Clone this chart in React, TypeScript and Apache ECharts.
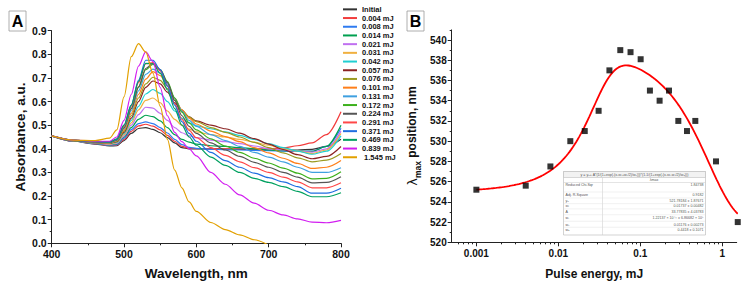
import React, { useEffect, useRef } from "react";
import * as echarts from "echarts";

const FONT = "'Liberation Sans', Arial, Helvetica, sans-serif";

// ---------- Panel A: absorption spectra after successive laser pulses ----------
const wavelengths = [400, 430, 460, 480, 490, 500, 510, 520, 530, 540, 550, 560, 570, 580, 590, 600, 620, 640, 660, 680, 700, 720, 740, 760, 780, 800];

const absInitial = [0.455, 0.432, 0.420, 0.412, 0.413, 0.435, 0.465, 0.486, 0.490, 0.482, 0.468, 0.447, 0.425, 0.405, 0.400, 0.400, 0.400, 0.399, 0.398, 0.396, 0.395, 0.394, 0.395, 0.398, 0.410, 0.440];
const abs0004 = [0.455, 0.433, 0.421, 0.414, 0.416, 0.440, 0.474, 0.497, 0.504, 0.496, 0.480, 0.457, 0.432, 0.410, 0.402, 0.401, 0.400, 0.400, 0.400, 0.400, 0.400, 0.404, 0.413, 0.425, 0.460, 0.557];
const abs0008 = [0.455, 0.433, 0.422, 0.415, 0.418, 0.445, 0.481, 0.507, 0.514, 0.507, 0.490, 0.467, 0.440, 0.418, 0.406, 0.402, 0.398, 0.396, 0.395, 0.393, 0.392, 0.390, 0.389, 0.390, 0.410, 0.487];
const abs0014 = [0.455, 0.434, 0.423, 0.417, 0.421, 0.450, 0.490, 0.525, 0.542, 0.536, 0.518, 0.490, 0.460, 0.440, 0.428, 0.420, 0.413, 0.410, 0.405, 0.400, 0.395, 0.392, 0.390, 0.389, 0.410, 0.500];
const abs0021 = [0.455, 0.434, 0.424, 0.418, 0.423, 0.455, 0.500, 0.545, 0.576, 0.572, 0.550, 0.520, 0.490, 0.468, 0.455, 0.447, 0.437, 0.430, 0.422, 0.412, 0.400, 0.395, 0.390, 0.386, 0.400, 0.475];
const abs0031 = [0.455, 0.435, 0.425, 0.420, 0.426, 0.460, 0.510, 0.565, 0.605, 0.615, 0.595, 0.560, 0.525, 0.500, 0.483, 0.472, 0.460, 0.450, 0.440, 0.428, 0.415, 0.400, 0.390, 0.380, 0.395, 0.465];
const abs0042 = [0.455, 0.435, 0.426, 0.422, 0.428, 0.465, 0.520, 0.580, 0.632, 0.651, 0.635, 0.600, 0.560, 0.530, 0.510, 0.497, 0.485, 0.472, 0.457, 0.440, 0.422, 0.405, 0.390, 0.377, 0.390, 0.455];
const abs0057 = [0.455, 0.435, 0.426, 0.423, 0.430, 0.470, 0.530, 0.600, 0.660, 0.687, 0.675, 0.640, 0.595, 0.560, 0.535, 0.518, 0.500, 0.485, 0.466, 0.443, 0.420, 0.397, 0.375, 0.358, 0.368, 0.410];
const abs0076 = [0.455, 0.435, 0.427, 0.424, 0.432, 0.475, 0.540, 0.615, 0.675, 0.703, 0.690, 0.655, 0.605, 0.565, 0.535, 0.515, 0.490, 0.470, 0.450, 0.427, 0.405, 0.383, 0.362, 0.345, 0.352, 0.380];
const abs0101 = [0.455, 0.436, 0.428, 0.425, 0.434, 0.480, 0.550, 0.630, 0.695, 0.727, 0.710, 0.670, 0.615, 0.565, 0.530, 0.505, 0.475, 0.452, 0.430, 0.405, 0.383, 0.360, 0.338, 0.317, 0.322, 0.350];
const abs0131 = [0.455, 0.436, 0.428, 0.426, 0.436, 0.485, 0.560, 0.645, 0.715, 0.737, 0.720, 0.675, 0.615, 0.560, 0.520, 0.495, 0.460, 0.435, 0.410, 0.385, 0.365, 0.345, 0.322, 0.300, 0.300, 0.320];
const abs0172 = [0.455, 0.436, 0.429, 0.427, 0.438, 0.490, 0.570, 0.660, 0.735, 0.757, 0.735, 0.685, 0.615, 0.555, 0.510, 0.480, 0.442, 0.412, 0.385, 0.360, 0.340, 0.318, 0.297, 0.273, 0.275, 0.303];
const abs0224 = [0.455, 0.436, 0.429, 0.427, 0.438, 0.490, 0.570, 0.662, 0.740, 0.762, 0.735, 0.680, 0.605, 0.540, 0.495, 0.465, 0.425, 0.395, 0.368, 0.343, 0.322, 0.300, 0.280, 0.256, 0.258, 0.282];
const abs0291 = [0.455, 0.437, 0.430, 0.428, 0.440, 0.495, 0.580, 0.680, 0.760, 0.765, 0.730, 0.665, 0.590, 0.525, 0.478, 0.447, 0.405, 0.372, 0.345, 0.320, 0.300, 0.280, 0.260, 0.235, 0.235, 0.256];
const abs0371 = [0.455, 0.437, 0.430, 0.428, 0.440, 0.500, 0.585, 0.690, 0.775, 0.775, 0.735, 0.665, 0.585, 0.515, 0.465, 0.432, 0.385, 0.350, 0.322, 0.297, 0.278, 0.260, 0.240, 0.212, 0.212, 0.233];
const abs0469 = [0.455, 0.437, 0.431, 0.429, 0.442, 0.500, 0.585, 0.685, 0.762, 0.760, 0.720, 0.650, 0.570, 0.500, 0.450, 0.415, 0.365, 0.330, 0.300, 0.275, 0.258, 0.240, 0.220, 0.197, 0.197, 0.214];
const abs0839 = [0.455, 0.437, 0.432, 0.432, 0.450, 0.520, 0.630, 0.750, 0.810, 0.770, 0.660, 0.540, 0.470, 0.430, 0.400, 0.370, 0.300, 0.250, 0.205, 0.170, 0.140, 0.120, 0.103, 0.090, 0.087, 0.097];
// the last spectrum runs below zero after ~690 nm and is cut by the plot frame
const abs1545 = [0.455, 0.437, 0.435, 0.445, 0.480, 0.620, 0.790, 0.845, 0.810, 0.720, 0.580, 0.440, 0.310, 0.235, 0.175, 0.135, 0.088, 0.058, 0.036, 0.015, -0.008, null, null, null, null, null];

const spectra = [absInitial, abs0004, abs0008, abs0014, abs0021, abs0031, abs0042, abs0057, abs0076, abs0101, abs0131, abs0172, abs0224, abs0291, abs0371, abs0469, abs0839, abs1545];
const spectrumNames = ["Initial", "0.004 mJ", "0.008 mJ", "0.014 mJ", "0.021 mJ", "0.031 mJ", "0.042 mJ", "0.057 mJ", "0.076 mJ", "0.101 mJ", "0.131 mJ", "0.172 mJ", "0.224 mJ", "0.291 mJ", "0.371 mJ", "0.469 mJ", "0.839 mJ", " 1.545 mJ"];
const spectrumColors = ["#333333", "#f23c3c", "#2f7bf0", "#00a050", "#c070f0", "#f0b040", "#20cfd2", "#8b2323", "#9a9a20", "#ff7f1a", "#3fa0e0", "#3cb01c", "#555555", "#ff4848", "#1f6ee0", "#00a060", "#d21ef0", "#e2a000"];

// ---------- Panel B: peak position vs pulse energy ----------
const pulseEnergy = [0.001, 0.004, 0.008, 0.014, 0.021, 0.031, 0.042, 0.057, 0.076, 0.101, 0.131, 0.172, 0.224, 0.291, 0.371, 0.469, 0.839, 1.545];
const lambdaMax = [525.2, 525.6, 527.5, 530.0, 531.0, 533.0, 537.0, 539.0, 538.8, 538.1, 535.0, 534.0, 535.0, 532.0, 531.0, 532.0, 528.0, 522.0];

// Asym2Sig fit parameters (as listed in the inset table)
const fitY0 = 521.78184;
const fitXc = 0.01737;
const fitA = 33.77835;
const fitW1 = 1.22137e-11;
const fitW2 = 0.01176;
const fitW3 = 0.4418;

const fitTableRows = [
  ["Reduced Chi-Sqr", "1.84738"],
  ["Adj. R-Square", "0.9182"],
  ["y\u2080", "521.78184 \u00b1 1.87671"],
  ["xc", "0.01737 \u00b1 0.00482"],
  ["A", "33.77835 \u00b1 4.03783"],
  ["w\u2081", "1.22137 \u00d7 10\u207b\u00b9\u00b9 \u00b1 6.86682 \u00d7 10\u2075"],
  ["w\u2082", "0.01176 \u00b1 0.00273"],
  ["w\u2083", "0.4418 \u00b1 0.1071"],
];

const energyTicks = [0.001, 0.01, 0.1, 1];
const energyMinorTicks: number[] = [];
[0.0001, 0.001, 0.01, 0.1, 1].forEach((d) => {
  for (let k = 2; k <= 9; k++) {
    const v = +(k * d).toPrecision(3);
    if (v > 0.0005 && v < 1.5 && v !== 0.001) energyMinorTicks.push(v);
  }
});
const lambdaTicks = [520, 522, 524, 526, 528, 530, 532, 534, 536, 538, 540];
const lambdaMinorTicks = [521, 523, 525, 527, 529, 531, 533, 535, 537, 539, 541];

function asym2sig(x: number) {
  const rise = 1 / (1 + Math.exp(-(x - fitXc + fitW1 / 2) / fitW2));
  const fall = 1 - 1 / (1 + Math.exp(-(x - fitXc - fitW1 / 2) / fitW3));
  return fitY0 + fitA * rise * fall;
}

function fitCurve() {
  const pts: number[][] = [];
  const lo = Math.log10(pulseEnergy[0]);
  const hi = Math.log10(pulseEnergy[pulseEnergy.length - 1]);
  const n = 160;
  for (let i = 0; i <= n; i++) {
    const x = Math.pow(10, lo + ((hi - lo) * i) / n);
    pts.push([x, asym2sig(x)]);
  }
  return pts;
}

const AXIS = "#222";

function buildOption() {
  const spectrumSeries = spectra.map((vals, i) => ({
    type: "line",
    name: spectrumNames[i],
    xAxisIndex: 0,
    yAxisIndex: 0,
    data: wavelengths
      .map((w, j) => (vals[j] == null ? null : [w, vals[j]]))
      .filter((p) => p !== null),
    showSymbol: false,
    symbol: "none",
    smooth: 0.3,
    smoothMonotone: "x",
    color: spectrumColors[i],
    lineStyle: { width: 1.2, color: spectrumColors[i] },
    clip: true,
  }));

  // inset table of fit results
  const tx0 = 563.5;
  const tx1 = 705.5;
  const txDiv = 602.5;
  const rowCenters = [185, 195, 201, 206.3, 211.5, 218, 224.5, 230];
  const tableChildren: any[] = [
    { type: "rect", shape: { x: tx0, y: 171.5, width: tx1 - tx0, height: 63.5 }, style: { fill: "#fff", stroke: "#b5b5b5", lineWidth: 0.6 } },
    { type: "rect", shape: { x: tx0, y: 171.5, width: tx1 - tx0, height: 6 }, style: { fill: "#f2f2f2", stroke: "#b5b5b5", lineWidth: 0.5 } },
    { type: "line", shape: { x1: txDiv, y1: 177.5, x2: txDiv, y2: 235 }, style: { stroke: "#c8c8c8", lineWidth: 0.5 } },
    { type: "line", shape: { x1: tx0, y1: 182.5, x2: tx1, y2: 182.5 }, style: { stroke: "#c8c8c8", lineWidth: 0.5 } },
    {
      type: "text",
      x: (tx0 + tx1) / 2,
      y: 174.5,
      style: {
        text: "y = y\u2080+ A*(1/(1+exp(-(x-xc+w\u2081/2)/w\u2082)))*(1-1/(1+exp(-(x-xc-w\u2081/2)/w\u2083)))",
        fill: "#555",
        fontSize: 3.6,
        fontFamily: FONT,
        align: "center",
        verticalAlign: "middle",
      },
    },
    {
      type: "text",
      x: (txDiv + tx1) / 2,
      y: 180,
      style: { text: "\u03bbmax", fill: "#555", fontSize: 3.6, fontFamily: FONT, align: "center", verticalAlign: "middle" },
    },
  ];
  fitTableRows.forEach((row, i) => {
    const yc = rowCenters[i];
    tableChildren.push(
      { type: "text", x: tx0 + 2, y: yc, style: { text: row[0], fill: "#555", fontSize: 3.6, fontFamily: FONT, align: "left", verticalAlign: "middle" } },
      { type: "text", x: tx1 - 2, y: yc, style: { text: row[1], fill: "#555", fontSize: 3.6, fontFamily: FONT, align: "right", verticalAlign: "middle" } }
    );
    if (i > 0 && i < fitTableRows.length) {
      const ySep = (rowCenters[i - 1] + yc) / 2 + (i === 1 ? 2 : 0);
      tableChildren.push({ type: "line", shape: { x1: tx0, y1: ySep, x2: tx1, y2: ySep }, style: { stroke: "#dcdcdc", lineWidth: 0.4 } });
    }
  });

  const panelLabel = (x: number, y: number, letter: string) => ({
    type: "group",
    children: [
      { type: "rect", shape: { x, y, width: 17, height: 20 }, style: { fill: "#fff", stroke: "#9a9a9a", lineWidth: 0.8 } },
      {
        type: "text",
        x: x + 8.5,
        y: y + 10.5,
        style: { text: letter, fill: "#000", fontSize: 16, fontWeight: "bold", fontFamily: FONT, align: "center", verticalAlign: "middle" },
      },
    ],
  });

  const tickLabel = { fontSize: 10.5, fontWeight: "bold", color: "#111", fontFamily: FONT };
  const titleStyle = { fontSize: 13.5, fontWeight: "bold", color: "#111", fontFamily: FONT };

  return {
    animation: false,
    backgroundColor: "#fff",
    textStyle: { fontFamily: FONT },
    grid: [
      { left: 51.7, top: 30.7, width: 289.3, height: 212.6 },
      { left: 451.7, top: 29.9, width: 285, height: 212.4 },
    ],
    legend: {
      data: spectrumNames,
      orient: "vertical",
      left: 343,
      top: 5,
      padding: 0,
      itemGap: 0,
      itemWidth: 14,
      itemHeight: 2,
      icon: "rect",
      textStyle: { fontSize: 7.5, fontWeight: "bold", color: "#111", fontFamily: FONT, lineHeight: 8.7 },
    },
    xAxis: [
      {
        gridIndex: 0,
        type: "value",
        position: "bottom",
        min: 400,
        max: 800,
        interval: 100,
        name: "Wavelength, nm",
        nameLocation: "middle",
        nameGap: 23,
        nameTextStyle: titleStyle,
        axisLine: { lineStyle: { color: AXIS, width: 1 } },
        axisTick: { length: 4, lineStyle: { color: AXIS } },
        minorTick: { show: true, splitNumber: 2, length: 2, lineStyle: { color: AXIS } },
        axisLabel: { ...tickLabel, margin: 5 },
        splitLine: { show: false },
      },
      {
        gridIndex: 1,
        type: "log",
        logBase: 10,
        position: "bottom",
        min: 0.0005,
        max: 1.5,
        name: "Pulse energy, mJ",
        nameLocation: "middle",
        nameGap: 26,
        nameTextStyle: { ...titleStyle, fontSize: 12 },
        axisLine: { lineStyle: { color: AXIS, width: 1 } },
        axisTick: { length: 4, lineStyle: { color: AXIS }, customValues: energyTicks },
        axisLabel: {
          ...tickLabel,
          fontSize: 10,
          margin: 6,
          customValues: energyTicks,
          formatter: (v: number) => String(+Number(v).toPrecision(6)),
        },
        splitLine: { show: false },
      },
      {
        gridIndex: 1,
        type: "log",
        logBase: 10,
        position: "bottom",
        min: 0.0005,
        max: 1.5,
        axisLine: { show: false },
        axisTick: { length: 2, lineStyle: { color: AXIS }, customValues: energyMinorTicks },
        axisLabel: { show: false },
        splitLine: { show: false },
      },
    ],
    yAxis: [
      {
        gridIndex: 0,
        type: "value",
        position: "left",
        min: 0,
        max: 0.9,
        interval: 0.1,
        name: "Absorbance, a.u.",
        nameLocation: "middle",
        nameGap: 24,
        nameRotate: 90,
        nameTextStyle: titleStyle,
        axisLine: { show: true, lineStyle: { color: AXIS, width: 1 } },
        axisTick: { show: true, length: 4, lineStyle: { color: AXIS } },
        minorTick: { show: true, splitNumber: 2, length: 2, lineStyle: { color: AXIS } },
        axisLabel: { ...tickLabel, margin: 5, formatter: (v: number) => v.toFixed(1) },
        splitLine: { show: false },
      },
      {
        gridIndex: 1,
        type: "value",
        position: "left",
        min: 520,
        max: 541,
        name: "{g|\u03bb}{s|max}{t| position, nm}",
        nameLocation: "middle",
        nameGap: 22,
        nameRotate: 90,
        nameTextStyle: {
          rich: {
            g: { fontSize: 13, fontFamily: "'DejaVu Sans', sans-serif", color: "#111", verticalAlign: "top", lineHeight: 14 },
            s: { fontSize: 8.5, fontWeight: "bold", fontFamily: FONT, color: "#111", lineHeight: 24 },
            t: { fontSize: 12, fontWeight: "bold", fontFamily: FONT, color: "#111", verticalAlign: "top", lineHeight: 14 },
          },
        },
        axisLine: { show: true, lineStyle: { color: AXIS, width: 1 } },
        axisTick: { show: true, length: 4, lineStyle: { color: AXIS }, customValues: lambdaTicks },
        axisLabel: { ...tickLabel, fontSize: 10, margin: 5, customValues: lambdaTicks },
        splitLine: { show: false },
      },
      {
        gridIndex: 1,
        type: "value",
        position: "left",
        min: 520,
        max: 541,
        axisLine: { show: false },
        axisTick: { show: true, length: 2, lineStyle: { color: AXIS }, customValues: lambdaMinorTicks },
        axisLabel: { show: false },
        splitLine: { show: false },
      },
    ],
    series: [
      ...spectrumSeries,
      {
        type: "line",
        name: "fit",
        xAxisIndex: 1,
        yAxisIndex: 1,
        data: fitCurve(),
        showSymbol: false,
        symbol: "none",
        lineStyle: { color: "#ff0000", width: 1.8 },
        clip: false,
        z: 2,
      },
      {
        type: "scatter",
        name: "\u03bbmax",
        xAxisIndex: 1,
        yAxisIndex: 1,
        data: pulseEnergy.map((e, i) => [e, lambdaMax[i]]),
        symbol: "rect",
        symbolSize: 6,
        itemStyle: { color: "#000" },
        clip: false,
        z: 3,
      },
    ],
    graphic: [panelLabel(9, 11, "A"), panelLabel(407, 11, "B"), { type: "group", children: tableChildren }],
  };
}

export default function App() {
  const ref = useRef<HTMLDivElement>(null);
  useEffect(() => {
    if (!ref.current) return;
    const chart = echarts.init(ref.current, undefined, { renderer: "svg" });
    chart.setOption(buildOption() as any);
    return () => chart.dispose();
  }, []);
  return (
    <div
      ref={ref}
      style={{ position: "absolute", left: 0, top: 0, width: 748, height: 289, background: "#fff" }}
    />
  );
}
